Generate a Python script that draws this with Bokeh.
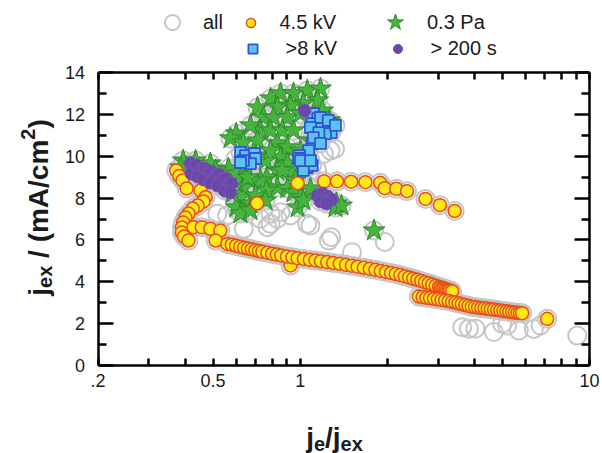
import math
from bokeh.plotting import figure
from bokeh.models import LinearAxis, LogAxis, FixedTicker, Legend, LegendItem, Label, Range1d
from bokeh.embed import file_html
from bokeh.resources import INLINE

# ---------------- data ----------------
# 4.5 kV series, in several branches
kv45_curve_x = [0.373, 0.382, 0.392, 0.405, 0.452, 0.471, 0.463, 0.442, 0.425, 0.411, 0.401, 0.394,
                0.390, 0.390, 0.397, 0.411, 0.428, 0.457, 0.489, 0.530, 0.510, 0.71, 0.98, 0.926]
kv45_curve_y = [9.32, 9.05, 8.84, 8.46, 8.36, 8.04, 7.84, 7.64, 7.50, 7.26, 7.07, 6.83,
                6.59, 6.35, 6.16, 5.97, 6.61, 6.61, 6.53, 6.45, 5.97, 7.75, 8.71, 4.78]
kv45_upper_x = [1.21, 1.34, 1.50, 1.68, 1.89, 1.96, 2.15, 2.34, 2.71, 3.04, 3.42]
kv45_upper_y = [8.80, 8.80, 8.78, 8.76, 8.73, 8.47, 8.44, 8.33, 7.96, 7.66, 7.38]
kv45_lineA_x = [0.56, 0.58, 0.60, 0.62, 0.64, 0.66, 0.68, 0.70, 0.72, 0.74, 0.77, 0.80, 0.83, 0.86,
                0.90, 0.94, 0.98, 1.03, 1.08, 1.13, 1.18, 1.24, 1.30, 1.37, 1.44, 1.51, 1.58, 1.66,
                1.74, 1.82, 1.90, 1.98, 2.06, 2.14, 2.22, 2.30, 2.38, 2.46, 2.54, 2.62, 2.70, 2.78,
                2.86, 2.94, 3.02, 3.06, 3.10, 3.14, 3.18, 3.22, 3.26, 3.30, 3.35]
kv45_lineA_y = [5.81, 5.77, 5.72, 5.67, 5.63, 5.59, 5.55, 5.51, 5.47, 5.44, 5.39, 5.34, 5.30, 5.26,
                5.21, 5.17, 5.13, 5.09, 5.05, 5.02, 4.98, 4.94, 4.90, 4.86, 4.81, 4.77, 4.72, 4.67,
                4.62, 4.57, 4.52, 4.47, 4.42, 4.37, 4.32, 4.26, 4.21, 4.15, 4.10, 4.04, 3.98, 3.93,
                3.87, 3.81, 3.76, 3.73, 3.70, 3.68, 3.65, 3.62, 3.60, 3.58, 3.55]
kv45_lineB_x = [2.57, 2.65, 2.73, 2.81, 2.90, 2.99, 3.08, 3.17, 3.26, 3.35, 3.44, 3.53, 3.62, 3.72,
                3.82, 3.92, 4.02, 4.12, 4.23, 4.34, 4.45, 4.56, 4.68, 4.80, 4.92, 5.04, 5.16, 5.28,
                5.40, 5.52, 5.64, 5.75, 5.85, 7.14]
kv45_lineB_y = [3.30, 3.27, 3.24, 3.22, 3.19, 3.16, 3.13, 3.11, 3.08, 3.04, 3.01, 2.97, 2.93, 2.89,
                2.85, 2.81, 2.79, 2.77, 2.75, 2.73, 2.71, 2.69, 2.67, 2.65, 2.63, 2.61, 2.59, 2.57,
                2.55, 2.53, 2.52, 2.51, 2.50, 2.23]

# 0.3 Pa series
pa03_x = [0.712, 0.79, 0.855, 0.948, 1.058, 1.175, 1.150, 1.025, 0.926, 0.834, 0.747, 0.808, 0.903,
          1.002, 0.729, 0.673, 0.601, 0.574, 0.636, 0.712, 0.79, 0.868, 0.948, 0.834, 0.903, 0.855,
          0.903, 0.948, 0.834, 0.765, 0.729, 0.673, 0.636, 0.622, 0.601, 0.673, 0.834, 0.903, 0.948,
          1.002, 0.98, 1.334, 1.262, 1.195, 0.394, 0.386, 0.489, 0.565, 0.601, 0.660, 0.622, 0.673,
          0.583, 0.765, 1.085, 1.025, 1.324, 0.868, 1.80, 1.389, 1.255, 1.002, 1.085, 1.043, 0.963,
          0.759, 0.79, 0.701, 0.647, 0.435, 0.51, 0.53, 0.574, 0.489, 0.701, 0.759]
pa03_y = [12.33, 12.76, 13.0, 13.0, 13.14, 13.23, 12.66, 12.52, 12.42, 12.33, 11.85, 11.85, 11.85,
          12.04, 11.23, 11.47, 11.08, 10.85, 10.66, 10.75, 11.23, 11.23, 11.23, 10.61, 10.42, 9.94,
          9.65, 9.32, 9.32, 8.98, 8.84, 8.84, 8.50, 8.03, 7.55, 7.74, 8.50, 8.46, 8.27,
          8.03, 7.55, 7.74, 11.71, 12.18, 9.79, 9.46, 9.65, 9.41, 9.17, 8.98, 7.26, 7.41,
          8.22, 8.36, 8.46, 7.88, 7.55, 9.32, 6.45, 7.64, 11.61, 10.27, 10.75, 9.79, 8.84,
          9.79, 10.27, 10.03, 9.56, 9.79, 9.32, 8.84, 8.60, 8.93, 8.12, 7.88]

# >8 kV series
kv8_x = [0.622, 0.647, 0.695, 0.701, 0.673, 0.636, 0.622,
         1.11, 1.15, 1.10, 1.175, 1.27, 1.28, 1.223, 1.15, 1.10, 1.07, 0.995, 0.987, 1.018, 1.058,
         1.10, 1.025, 1.175, 1.085, 1.16, 1.11, 1.175, 1.002, 1.085, 1.25, 1.324]
kv8_y = [10.18, 10.03, 10.13, 9.89, 9.65, 9.79, 9.70,
         12.04, 11.80, 11.56, 11.37, 11.56, 11.13, 11.08, 10.85, 10.61, 10.27, 10.03, 9.89, 9.65, 9.46,
         9.56, 9.32, 11.85, 11.37, 11.13, 10.89, 10.61, 9.79, 9.79, 11.71, 11.47]

# > 200 s series
s200_x = [0.418, 0.428, 0.421, 0.438, 0.452, 0.442, 0.467, 0.478, 0.463, 0.494, 0.506, 0.489,
          0.522, 0.535, 0.518, 0.552, 0.565, 0.548, 0.579, 0.573,
          1.035, 1.147, 1.194, 1.243, 1.283, 1.175, 1.233]
s200_y = [9.65, 9.41, 9.17, 9.56, 9.32, 9.03, 9.41, 9.17, 8.89, 9.27, 9.03, 8.74,
          9.13, 8.89, 8.60, 8.93, 8.65, 8.36, 8.70, 8.27,
          12.18, 8.12, 8.22, 8.07, 7.93, 7.84, 7.74]

# "all": every point above plus points that belong to no subset
other_x = [0.517, 0.559, 0.606, 0.638, 0.729, 0.79, 0.833, 0.769, 0.926, 1.057, 1.085, 1.256, 1.28,
           1.51, 1.96, 0.63, 0.597, 0.729, 0.769, 1.085, 1.145, 1.273, 1.32, 1.207, 0.79, 0.855,
           3.63, 3.83, 4.03, 4.67, 4.99, 5.19, 5.70, 6.42, 6.77, 9.07]
other_y = [7.25, 7.17, 7.41, 6.53, 7.01, 6.77, 7.01, 6.61, 7.17, 6.77, 6.69, 5.97, 6.13,
           5.41, 5.90, 9.71, 9.88, 9.24, 9.32, 9.24, 9.32, 10.27, 10.35, 10.11, 7.25, 7.32,
           1.83, 1.76, 1.76, 1.60, 1.99, 1.91, 1.67, 1.75, 1.91, 1.43]

x_lim = (0.2, 10)
y_lim = (0, 14)
x_major = [0.2, 0.5, 1, 10]
x_minor = [0.3, 0.4, 0.6, 0.7, 0.8, 0.9, 2, 3, 4, 5, 6, 7, 8, 9]
x_labels = {0.2: ".2", 0.5: "0.5", 1: "1", 10: "10"}
y_major = [0, 2, 4, 6, 8, 10, 12, 14]
y_minor = [1, 3, 5, 7, 9, 11, 13]

kv45_x = kv45_curve_x + kv45_upper_x + kv45_lineA_x + kv45_lineB_x
kv45_y = kv45_curve_y + kv45_upper_y + kv45_lineA_y + kv45_lineB_y
all_x = kv45_x + pa03_x + kv8_x + s200_x + other_x
all_y = kv45_y + pa03_y + kv8_y + s200_y + other_y

# ---------------- layout: frame = whole canvas, axes box placed inside ----------------
W, H = 602, 453
BOX_L, BOX_R, BOX_T, BOX_B = 97.5, 589.0, 72.0, 365.0   # page pixels of the axes box
dec_px = (BOX_R - BOX_L) / (math.log10(x_lim[1]) - math.log10(x_lim[0]))
xl = 10 ** (math.log10(x_lim[0]) - BOX_L / dec_px)
xr = 10 ** (math.log10(x_lim[1]) + (W - BOX_R) / dec_px)
ypx = (BOX_B - BOX_T) / (y_lim[1] - y_lim[0])
yb = y_lim[0] - (H - BOX_B) / ypx
yt = y_lim[1] + BOX_T / ypx

p = figure(width=W, height=H, x_axis_type="log",
           x_range=Range1d(xl, xr), y_range=Range1d(yb, yt),
           output_backend="svg", toolbar_location=None, min_border=0,
           min_border_left=0, min_border_right=0, min_border_top=0, min_border_bottom=0)
p.title.visible = False
p.xgrid.visible = False
p.ygrid.visible = False
p.outline_line_color = None
p.background_fill_color = "white"
p.border_fill_color = "white"

FONT = "Liberation Sans"
INK = "#1a1a1a"

def style_axis(ax, major, minor, tin_major, tin_minor, loc, bounds, overrides=None, standoff=10):
    ax.fixed_location = loc
    ax.bounds = bounds
    ax.ticker = FixedTicker(ticks=major, minor_ticks=minor)
    ax.axis_line_width = 2.5
    ax.axis_line_color = "black"
    ax.major_tick_line_width = 2.5
    ax.minor_tick_line_width = 2.5
    ax.major_tick_line_color = "black"
    ax.minor_tick_line_color = "black"
    ax.major_tick_in = tin_major
    ax.major_tick_out = 0
    ax.minor_tick_in = tin_minor
    ax.minor_tick_out = 0
    ax.major_label_text_font = FONT
    ax.major_label_text_font_size = "18px"
    ax.major_label_text_color = INK
    ax.major_label_standoff = standoff
    if overrides is not None:
        ax.major_label_overrides = overrides

style_axis(p.xaxis[0], x_major, x_minor, 7, 7, y_lim[0], x_lim, overrides=x_labels, standoff=8)
style_axis(p.yaxis[0], y_major, y_minor, 15, 8, x_lim[0], y_lim, standoff=13)
top = LogAxis()
right = LinearAxis()
style_axis(top, x_major, x_minor, 7, 7, y_lim[1], x_lim, overrides={t: "" for t in x_major})
style_axis(right, y_major, y_minor, 15, 8, x_lim[1], y_lim, overrides={t: "" for t in y_major})
p.add_layout(top, "above")
p.add_layout(right, "right")

# ---------------- glyphs ----------------
r_all = p.scatter(all_x, all_y, marker="circle", size=18, fill_color=None,
                  line_color="#c6c6c6", line_width=2)
r_pa = p.scatter(pa03_x, pa03_y, marker="star", size=23, fill_color="#47b53d",
                 line_color="#2b8a2b", line_width=1)
r_kv45 = p.scatter(kv45_x, kv45_y, marker="circle", size=13, fill_color="#ffe815",
                   line_color="#ea4a1e", line_width=1.5)
r_kv8 = p.scatter(kv8_x, kv8_y, marker="square", size=11, fill_color="#5cc3ee",
                  line_color="#2f55d6", line_width=1.8)
r_s200 = p.scatter(s200_x, s200_y, marker="circle", size=13, fill_color="#6a48a8",
                   line_color="#7656b8", line_width=1)

# ---------------- legend (one per entry, placed above the box) ----------------
def add_legend(label, rend, cx, cy, gw, standoff):
    leg = Legend(items=[LegendItem(label=label, renderers=[rend])],
                 location=(cx - gw / 2, H - cy - gw / 2),
                 glyph_width=gw, glyph_height=gw, label_height=gw,
                 label_standoff=standoff, padding=0, spacing=0, margin=0,
                 border_line_color=None, background_fill_alpha=0,
                 label_text_font=FONT, label_text_font_size="20px",
                 label_text_color=INK)
    p.add_layout(leg)

add_legend("all", r_all, 172, 22, 38, 12)
add_legend("4.5 kV", r_kv45, 250, 22, 23, 18)
add_legend("0.3 Pa", r_pa, 395, 22, 42, 11)
add_legend(">8 kV", r_kv8, 252, 48, 23, 22)
add_legend("> 200 s", r_s200, 397, 48, 23, 22)

# ---------------- axis titles with sub/superscripts ----------------
BW = {' ': 0.278, '/': 0.278, '(': 0.333, ')': 0.333, 'j': 0.278, 'e': 0.556,
      'x': 0.556, 'm': 0.889, 'A': 0.722, 'c': 0.556, '2': 0.556}

def tw(s, size):
    return sum(BW[c] for c in s) * size

def piece(text, sx, sy, size, angle=0.0):
    p.add_layout(Label(x=sx, y=H - sy, x_units="screen", y_units="screen",
                       text=text, text_font=FONT, text_font_style="bold",
                       text_font_size=f"{size}px", text_color=INK,
                       text_baseline="alphabetic", text_align="left", angle=angle))

F, S = 28, 20
SP = tw(" ", F)
# x title: j_e / j_ex
xparts = [("j", F, 0), ("e", S, 6), ("/", F, 0), ("j", F, 0), ("ex", S, 6)]
total = sum(tw(t, s) for t, s, _ in xparts)
cx = 334 - total / 2
for t, s, sh in xparts:
    piece(t, cx, 437 + sh, s)
    cx += tw(t, s)

# y title: j_ex / (mA/cm^2)  (rotated, reading upwards); None = a word space
yparts = [("j", F, 0), ("ex", S, 6), None, ("/", F, 0), None, ("(mA/cm", F, 0), ("2", S, -11), (")", F, 0)]
total = sum(SP if q is None else tw(q[0], q[1]) for q in yparts)
cy = 207 + total / 2
for q in yparts:
    if q is None:
        cy -= SP
        continue
    t, s, sh = q
    piece(t, 38 + sh, cy, s, angle=math.pi / 2)
    cy -= tw(t, s)

open("out.html", "w").write(file_html(p, INLINE))
